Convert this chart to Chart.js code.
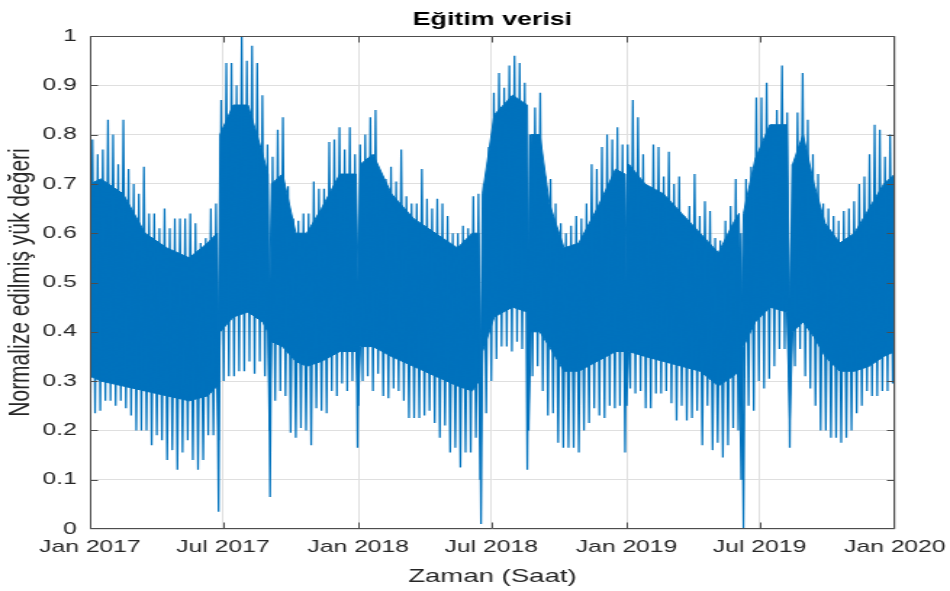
<!DOCTYPE html>
<html>
<head>
<meta charset="utf-8">
<script src="https://cdn.jsdelivr.net/npm/chart.js@4/dist/chart.umd.min.js"></script>
<style>
  html, body { margin: 0; padding: 0; background: #fff; overflow: hidden; }
  /* the figure is laid out on a narrower canvas and widened to the page */
  #wrap { width: 655px; height: 591px; transform-origin: 0 0; transform: scaleX(1.45038); }
</style>
</head>
<body>
<div id="wrap"><canvas id="c" width="655" height="591"></canvas></div>
<script>
// Axis ticks (x in days since 1 Jan 2017)
const xTickDays = [0, 181, 365, 546, 730, 911, 1095];
const xTickLabels = ['Jan 2017', 'Jul 2017', 'Jan 2018', 'Jul 2018', 'Jan 2019', 'Jul 2019', 'Jan 2020'];
const yTickValues = [0, 0.1, 0.2, 0.3, 0.4, 0.5, 0.6, 0.7, 0.8, 0.9, 1];

// Weekly extremes of the normalized hourly load (week k starts on day 7k)
const weekHigh = [
  0.79, 0.76, 0.77, 0.83, 0.80, 0.74, 0.83, 0.73, 0.70, 0.68,
  0.735, 0.64, 0.64, 0.61, 0.65, 0.61, 0.63, 0.63, 0.63, 0.64,
  0.62, 0.58, 0.59, 0.65, 0.66, 0.87, 0.945, 0.945, 0.90, 1.0,
  0.95, 0.98, 0.945, 0.88, 0.78, 0.755, 0.81, 0.835, 0.695, 0.63,
  0.625, 0.64, 0.64, 0.705, 0.69, 0.69, 0.785, 0.79, 0.815, 0.77,
  0.815, 0.76, 0.78, 0.80, 0.835, 0.85, 0.72, 0.71, 0.735, 0.705,
  0.77, 0.675, 0.66, 0.66, 0.73, 0.67, 0.65, 0.67, 0.66, 0.635,
  0.60, 0.60, 0.615, 0.61, 0.675, 0.68, 0.70, 0.775, 0.885, 0.925,
  0.895, 0.94, 0.96, 0.945, 0.905, 0.80, 0.855, 0.885, 0.715, 0.71,
  0.66, 0.62, 0.60, 0.615, 0.635, 0.63, 0.66, 0.74, 0.73, 0.775,
  0.80, 0.79, 0.815, 0.78, 0.78, 0.87, 0.835, 0.76, 0.695, 0.78,
  0.775, 0.715, 0.765, 0.70, 0.715, 0.635, 0.655, 0.72, 0.635, 0.665,
  0.645, 0.59, 0.585, 0.625, 0.655, 0.71, 0.60, 0.71, 0.735, 0.875,
  0.875, 0.905, 0.82, 0.85, 0.94, 0.845, 0.74, 0.845, 0.925, 0.83,
  0.76, 0.72, 0.66, 0.65, 0.635, 0.625, 0.645, 0.65, 0.665, 0.70,
  0.715, 0.76, 0.82, 0.81, 0.755, 0.80, 0.80
];
const weekLow = [
  0.13, 0.235, 0.24, 0.26, 0.26, 0.25, 0.26, 0.245, 0.23, 0.20,
  0.20, 0.20, 0.17, 0.19, 0.18, 0.14, 0.16, 0.12, 0.155, 0.18,
  0.14, 0.12, 0.14, 0.19, 0.19, 0.035, 0.30, 0.31, 0.31, 0.32,
  0.32, 0.34, 0.315, 0.34, 0.31, 0.065, 0.26, 0.28, 0.27, 0.195,
  0.185, 0.205, 0.20, 0.17, 0.245, 0.24, 0.235, 0.28, 0.27, 0.295,
  0.28, 0.30, 0.165, 0.30, 0.31, 0.28, 0.315, 0.27, 0.265, 0.285,
  0.28, 0.26, 0.225, 0.225, 0.225, 0.23, 0.24, 0.215, 0.185, 0.21,
  0.155, 0.165, 0.125, 0.155, 0.155, 0.185, 0.01, 0.235, 0.30, 0.345,
  0.37, 0.37, 0.36, 0.38, 0.365, 0.12, 0.31, 0.33, 0.28, 0.23,
  0.235, 0.175, 0.165, 0.165, 0.165, 0.155, 0.20, 0.215, 0.245, 0.23,
  0.225, 0.25, 0.245, 0.25, 0.155, 0.285, 0.275, 0.28, 0.245, 0.245,
  0.275, 0.275, 0.28, 0.255, 0.22, 0.25, 0.22, 0.225, 0.24, 0.17,
  0.25, 0.16, 0.175, 0.145, 0.17, 0.205, 0.20, 0.0, 0.25, 0.24,
  0.30, 0.285, 0.305, 0.33, 0.365, 0.365, 0.165, 0.33, 0.365, 0.31,
  0.285, 0.25, 0.20, 0.20, 0.185, 0.185, 0.175, 0.185, 0.20, 0.235,
  0.25, 0.28, 0.27, 0.27, 0.28, 0.28, 0.295
];

// Dense daily range of the load (upper and lower edge), by day
const coreDays = [0, 15, 45, 75, 105, 135, 160, 173, 175, 177,
  195, 215, 235, 242, 244, 247, 262, 280, 295, 315,
  340, 362, 365, 368, 385, 410, 440, 470, 500, 520,
  529, 531, 534, 550, 575, 595, 597, 600, 612, 625,
  645, 665, 690, 715, 728, 730, 733, 755, 780, 805,
  830, 855, 875, 883, 886, 889, 905, 925, 948, 952,
  956, 970, 985, 1000, 1020, 1040, 1060, 1080, 1095];
const coreTop = [0.70, 0.71, 0.68, 0.60, 0.57, 0.55, 0.58, 0.60, 0.40, 0.80,
  0.86, 0.86, 0.76, 0.72, 0.45, 0.70, 0.72, 0.60, 0.60, 0.65,
  0.72, 0.72, 0.50, 0.74, 0.76, 0.68, 0.63, 0.60, 0.57, 0.60,
  0.60, 0.30, 0.68, 0.84, 0.88, 0.86, 0.50, 0.80, 0.80, 0.66,
  0.57, 0.58, 0.65, 0.73, 0.72, 0.50, 0.74, 0.70, 0.68, 0.64,
  0.60, 0.56, 0.62, 0.64, 0.40, 0.64, 0.75, 0.82, 0.82, 0.45,
  0.74, 0.80, 0.70, 0.62, 0.58, 0.60, 0.65, 0.70, 0.72];
const coreBottom = [0.31, 0.30, 0.29, 0.28, 0.27, 0.26, 0.27, 0.29, 0.18, 0.40,
  0.43, 0.44, 0.42, 0.40, 0.20, 0.38, 0.37, 0.34, 0.33, 0.34,
  0.36, 0.36, 0.25, 0.37, 0.37, 0.35, 0.33, 0.31, 0.29, 0.28,
  0.30, 0.10, 0.36, 0.43, 0.45, 0.44, 0.20, 0.40, 0.40, 0.37,
  0.32, 0.32, 0.34, 0.36, 0.36, 0.25, 0.36, 0.35, 0.34, 0.33,
  0.32, 0.29, 0.31, 0.32, 0.10, 0.37, 0.42, 0.45, 0.44, 0.22,
  0.40, 0.42, 0.39, 0.35, 0.32, 0.32, 0.33, 0.35, 0.36];

const chartTitle = 'Eğitim verisi';
const xTitle = 'Zaman (Saat)';
const yTitle = 'Normalize edilmiş yük değeri';

const BLUE = '#0072BD';
const FONT = '"Liberation Sans", Arial, Helvetica, sans-serif';
const TEXT = '#262626';

// weekly trace: Sunday low, mid-week high
const trace = [];
weekLow.forEach((lo, k) => {
  trace.push({ x: 7 * k, y: lo });
  trace.push({ x: 7 * k + 3.5, y: weekHigh[k] });
});
const topPts = coreDays.map((d, i) => ({ x: d, y: coreTop[i] }));
const bottomPts = coreDays.map((d, i) => ({ x: d, y: coreBottom[i] }));

// axes box, inward ticks on all four sides, and the title above the axes
const frame = {
  id: 'frame',
  afterDraw(chart) {
    const { ctx, chartArea: a, scales: { x, y } } = chart;
    const L = Math.round(a.left) + 0.5, R = Math.round(a.right) - 0.5;
    const T = Math.round(a.top) + 0.5, B = Math.round(a.bottom) - 0.5;
    const clampX = v => Math.min(R, Math.max(L, v));
    const clampY = v => Math.min(B, Math.max(T, v));
    ctx.save();
    ctx.strokeStyle = '#4d4d4d';
    ctx.lineWidth = 1;
    ctx.beginPath();
    ctx.rect(L, T, R - L, B - T);
    xTickDays.forEach(d => {
      const px = clampX(Math.round(x.getPixelForValue(d)) + 0.5);
      ctx.moveTo(px, B); ctx.lineTo(px, B - 6);
      ctx.moveTo(px, T); ctx.lineTo(px, T + 6);
    });
    yTickValues.forEach(v => {
      const py = clampY(Math.round(y.getPixelForValue(v)) + 0.5);
      ctx.moveTo(L, py); ctx.lineTo(L + 5, py);
      ctx.moveTo(R, py); ctx.lineTo(R - 5, py);
    });
    ctx.stroke();
    ctx.fillStyle = '#000';
    ctx.font = 'bold 18.5px ' + FONT;
    ctx.textAlign = 'center';
    ctx.textBaseline = 'middle';
    ctx.fillText(chartTitle, (a.left + a.right) / 2, 20);
    ctx.restore();
  }
};

new Chart(document.getElementById('c'), {
  type: 'line',
  data: {
    datasets: [
      { data: trace, borderColor: BLUE, borderWidth: 1.25, pointRadius: 0,
        fill: false, tension: 0, borderJoinStyle: 'bevel' },
      { data: topPts, borderColor: BLUE, borderWidth: 1, pointRadius: 0,
        backgroundColor: BLUE, fill: '+1', tension: 0 },
      { data: bottomPts, borderColor: BLUE, borderWidth: 1, pointRadius: 0,
        fill: false, tension: 0 }
    ]
  },
  options: {
    responsive: false,
    animation: false,
    devicePixelRatio: 1,
    layout: { padding: { top: 36, right: 38, bottom: 0, left: 0 } },
    plugins: { legend: { display: false }, tooltip: { enabled: false }, title: { display: false } },
    scales: {
      x: {
        type: 'linear', min: 0, max: 1095,
        afterBuildTicks: s => { s.ticks = xTickDays.map(v => ({ value: v })); },
        afterFit: s => { s.height = 62; s.paddingLeft = 0; s.paddingRight = 0; },
        ticks: {
          autoSkip: false, maxRotation: 0, padding: 8, color: TEXT,
          font: { family: FONT, size: 17 },
          callback: v => xTickLabels[xTickDays.indexOf(v)]
        },
        grid: { color: '#dfdfdf', lineWidth: 1, drawTicks: false },
        border: { display: false },
        title: { display: true, text: xTitle, color: TEXT,
          font: { family: FONT, size: 19 }, padding: { top: 0, bottom: 3 } }
      },
      y: {
        type: 'linear', min: 0, max: 1,
        afterBuildTicks: s => { s.ticks = yTickValues.map(v => ({ value: v })); },
        afterFit: s => { s.width = 62; s.paddingTop = 0; s.paddingBottom = 0; },
        ticks: {
          padding: 9, color: TEXT,
          font: { family: FONT, size: 17 },
          callback: v => String(v)
        },
        grid: { color: '#dfdfdf', lineWidth: 1, drawTicks: false },
        border: { display: false },
        title: { display: true, text: yTitle, color: TEXT,
          font: { family: FONT, size: 21 }, padding: { top: 2, bottom: 0 } }
      }
    }
  },
  plugins: [frame]
});
</script>
</body>
</html>
